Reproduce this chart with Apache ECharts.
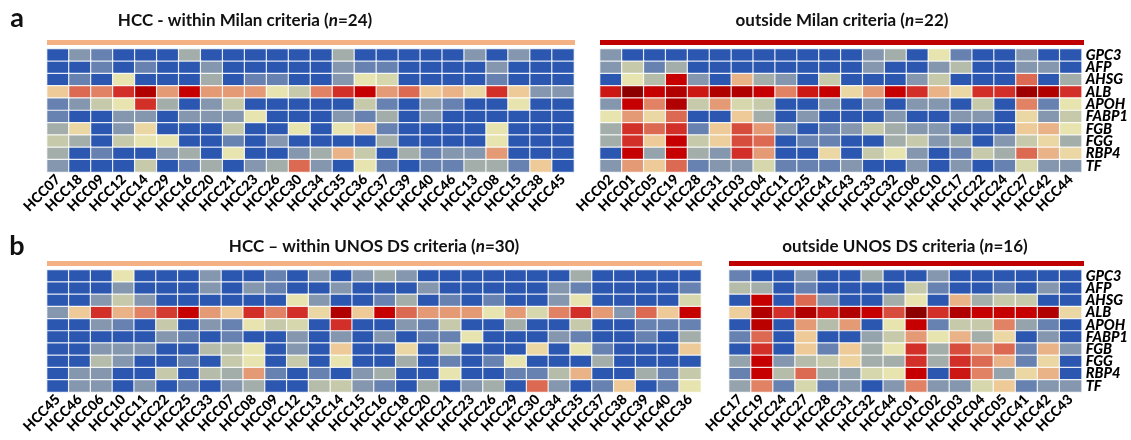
<!DOCTYPE html>
<html><head><meta charset="utf-8">
<script src="https://cdn.jsdelivr.net/npm/echarts@6/dist/echarts.min.js"></script>
<style>html,body{margin:0;padding:0;background:#fff}#c{width:1131px;height:440px}</style>
</head><body><div id="c"></div>
<script>
// ---------- DATA ----------
const genes = ['GPC3','AFP','AHSG','ALB','APOH','FABP1','FGB','FGG','RBP4','TF'];

const milanInSamples = ['HCC07','HCC18','HCC09','HCC12','HCC14','HCC29','HCC16','HCC20','HCC21','HCC23','HCC26','HCC30','HCC34','HCC35','HCC36','HCC37','HCC39','HCC40','HCC46','HCC13','HCC08','HCC15','HCC38','HCC45'];
const milanOutSamples = ['HCC02','HCC01','HCC05','HCC19','HCC28','HCC31','HCC03','HCC04','HCC11','HCC25','HCC41','HCC43','HCC33','HCC32','HCC06','HCC10','HCC17','HCC22','HCC24','HCC27','HCC42','HCC44'];
const unosInSamples = ['HCC45','HCC46','HCC06','HCC10','HCC11','HCC22','HCC25','HCC33','HCC07','HCC08','HCC09','HCC12','HCC13','HCC14','HCC15','HCC16','HCC18','HCC20','HCC21','HCC23','HCC26','HCC29','HCC30','HCC34','HCC35','HCC37','HCC38','HCC39','HCC40','HCC36'];
const unosOutSamples = ['HCC17','HCC19','HCC24','HCC27','HCC28','HCC31','HCC32','HCC44','HCC01','HCC02','HCC03','HCC04','HCC05','HCC41','HCC42','HCC43'];

// relative expression level (0 = low/blue ... 12 = high/dark red), rows follow `genes`
const milanInValues = [
  [0,2,1.5,0,0,0,3,0,0,0,0,0, 0,3,0,0,0,0,0,2,0,2,0,0],
  [0,0,1.5,0,1.5,0,0,2,0,0,0,0, 0,2,1.5,1.5,0,0,0,0,2,0,0,0],
  [0,1.5,0,5,0,0,0,3,0,1.5,1.5,0, 0,2,5,4.5,0,0,0,0,1.5,0,0,0],
  [6,8,7.5,9,11,7,10,7,7,7,5,4, 7.5,9,10,7,8,6,6.5,5.5,9,6,2,2],
  [1.5,2,4,5,9,3,0,2,4,0,0,0, 0,0,4,1.5,0,2,1.5,0,0,5,0,0],
  [1.5,0,0,2,2,0,2,2,2,5,0,0, 0,2,1.5,3,0,2,0,0,0,0,0,0],
  [3,5.5,0,2,5.5,0,0,0,4,0,0,5, 0,5,6,1.5,0,0,0,0,5,0,0,0],
  [4,3,0,4,5,5,0,0,1.5,0,2,0, 0,0,0,3,0,0,0,0,5,0,0,0],
  [3,0,1.5,0,0,2,3,0,5,0,0,2, 3,6.5,4,0,3,1.5,2,2,7,0,0,0],
  [2,0,0,0,4,0,1.5,3,0,2,3,8, 2,0,5,1.5,0,1.5,1.5,3,3,1.5,6,0]
];
const milanOutValues = [
  [2,0,0,0,0,0,0,0,0,0,0, 0,2,3,0,5,1.5,0,0,2,0,0],
  [2,4,1.5,3,0,0,0,0,0,0,0, 0,2,0,0,2,3.5,0,0,2,2,0],
  [0,5,3.5,10,2,0,6.5,3,2,0,4, 0,0,0,2,4,0,0,0,8,0,3],
  [9.5,12,10,11,9.5,11,11,10,7.5,9.5,10, 5.5,7,10,9,6.5,5.5,9,9,11.5,11,9],
  [2,10,7.5,11,4,7,4.5,4,0,0,2, 0,2,0,2,2,0,4,0,7.5,1.5,5],
  [5,7,5.5,8,0,0,6,3,0,2,0, 0,0,2,0,0,2,2,0,5.5,2,4],
  [3,9,8,9,1.5,6,8.5,7,2,0,1.5, 2,4,3,2,2,0,0,0,6,6.5,5],
  [3,9,6,10,4,5.8,8.5,8,0,1.5,1.5, 0,0,3,4,2,3,0,2,4,5.5,3],
  [0,10,2.5,10,3,2,9,7,0,0,5.5, 0,4,5,2,0,1.5,4,3,8,6.5,5.5],
  [2,7,6,8,1.5,2,2,4.5,1.5,1.5,1.5, 2,0,0,2,0,2,0,1.5,4.5,2,2]
];
const unosInValues = [
  [0,0,0,5,0,0,0,2,0,0, 1.5,0,2,0,2,3,2,0,0,0, 0,0,0,0,3,0,0,0,0,0],
  [0,0,0,2,0,0,0,2,0,2, 1.5,0,0,2,0,0,0,2,0,0, 0,0,0,2,1.5,0,0,0,0,1.5],
  [0,0,2,4,2,0,0,0,0,0, 0,5,2,0,0,1.5,3,0,1.5,0, 1.5,0,0,2,5,0,0,0,0,4.5],
  [2,6,9,6.5,7.5,8.8,10,7,6,9, 7.5,9,5.5,11,6,10,8,7,7,7, 5,7,4.5,7.5,9,7,2,8,6,10],
  [0,0,2,1.5,0,4,0,2,1.5,5, 4,4.5,0,9,0,0,2,1.5,4,0, 0,3,0,0,4,0,0,1.5,1.5,1.5],
  [0,0,0,0,0,2,1.5,0,1.5,0, 0,2,0,2,0,2,0,1.5,1.5,5, 0,0,0,2,1.5,0,0,1.5,0,3],
  [0,0,2,2,2,0,0,3.5,3.5,5, 0,2,0,6,0,0,5.5,0,4,0, 0,0,5.5,0,5,1.5,0,0,0,6],
  [0,0,3.5,2,0,0,1.5,0,4,5, 0,4,0,5,0,0,3,0,1.5,0, 1.5,5,0,0,0,3,0,0,0,0],
  [0,2,2,0,0,4,0,3.5,3,7, 1.5,0,1.5,0,2,3,0,0,5,0, 0,1.5,1.5,3.5,6.5,0,0,3,1.5,4],
  [0,2,2,0,2,0,1.5,0,2,3, 0,0,3.5,4,2,1.5,0,3,0,2, 3,0,8,2,0,1.5,6,0,1.5,5]
];
const unosOutValues = [
  [1.5,0,0,2,0,0,3,0, 0,2,0,0,0,0,0,0],
  [3.5,3,0,1.5,0,0,0,0, 4,1.5,0,0,1.5,0,2,0],
  [0,10,0,8,2,0,0,3, 5,0,6.5,3,4,4,0,0],
  [5.8,11,9,11,9.5,11,10,8.5, 12,9,11,10,10,10,11,5.5],
  [0,10.5,0,7,3.5,7,0,5, 10,1.5,4,4,7.5,2.5,1.5,0],
  [1.5,8,0,6,0,0,2.5,4, 7,5,6.5,3,5.5,0,2,0],
  [0,9,0,6,1.5,6,3,5, 9,3,8.5,7,8,1.5,6.5,2],
  [2.5,10,2,3.5,4,5.7,3,3, 9,3,9,8,6.5,1.5,5.5,0],
  [1.5,10,3.5,8,3,2.5,4.5,5, 10,0,9.5,7.5,2.5,5.5,6.5,0],
  [2.5,7.5,1.5,4.5,1.5,2,0,2, 7.5,2,2,4.5,6,1.5,2,2]
];

const panelTitles = [
  {main:'HCC - within Milan criteria (', n:'n', tail:'=24)'},
  {main:'outside Milan criteria (', n:'n', tail:'=22)'},
  {main:'HCC \u2013 within UNOS DS criteria (', n:'n', tail:'=30)'},
  {main:'outside UNOS DS criteria (', n:'n', tail:'=16)'}
];
const panelLetters = ['a','b'];

// ---------- LAYOUT / STYLE ----------
const FONT = 'Lato, "Open Sans", sans-serif';
const panels = [
  {samples: milanInSamples,  values: milanInValues,  left:47,  top:49,  width:527, height:123, bar:'#f4b183', showGenes:false, titleX:245, titleY:21},
  {samples: milanOutSamples, values: milanOutValues, left:600, top:49,  width:483, height:123, bar:'#c00000', showGenes:true,  titleX:842, titleY:21},
  {samples: unosInSamples,   values: unosInValues,   left:47,  top:270, width:654, height:122, bar:'#f4b183', showGenes:false, titleX:374, titleY:247},
  {samples: unosOutSamples,  values: unosOutValues,  left:729, top:270, width:354, height:122, bar:'#c00000', showGenes:true,  titleX:905, titleY:247}
];
const palette = ['#2b57b1','#4a6cb1','#8497ae','#a3aeaa','#c6c9aa','#e8e4b0','#edca97','#e59a76','#dc6a52','#d22f28','#c60000','#b00000','#8c0000'];

const grid = [], xAxis = [], yAxis = [], series = [], graphics = [];
panels.forEach((p, i) => {
  grid.push({left:p.left, top:p.top, width:p.width, height:p.height, containLabel:false});
  xAxis.push({type:'category', gridIndex:i, data:p.samples, position:'bottom',
    axisLine:{show:false}, axisTick:{show:false}, splitLine:{show:false},
    axisLabel:{interval:0, rotate:45, margin:5, color:'#000', fontFamily:FONT, fontWeight:900, fontSize:14}});
  yAxis.push({type:'category', gridIndex:i, data:genes, inverse:true, position:'right',
    axisLine:{show:false}, axisTick:{show:false}, splitLine:{show:false},
    axisLabel:{show:p.showGenes, interval:0, margin:4, color:'#000', fontFamily:FONT, fontWeight:900, fontStyle:'italic', fontSize:14.5}});
  const data = [];
  p.values.forEach((row, r) => row.forEach((v, c) => data.push([c, r, v])));
  series.push({type:'heatmap', xAxisIndex:i, yAxisIndex:i, data,
    itemStyle:{borderColor:'rgba(255,255,255,0.85)', borderWidth:1.2},
    emphasis:{disabled:true}});
  graphics.push({type:'rect', shape:{x:p.left, y:p.top - 9, width:p.width + 1, height:5}, style:{fill:p.bar}});
  const t = panelTitles[i];
  graphics.push({type:'text', x:p.titleX, y:p.titleY, style:{
    text:'{b|' + t.main + '}{i|' + t.n + '}{b|' + t.tail + '}',
    align:'center', verticalAlign:'middle',
    rich:{b:{fontFamily:FONT, fontWeight:'bold', fontSize:17, fill:'#111'},
          i:{fontFamily:FONT, fontWeight:'bold', fontStyle:'italic', fontSize:17, fill:'#111'}}}});
});
graphics.push({type:'text', x:17, y:18, style:{text:panelLetters[0], align:'center', verticalAlign:'middle', fontFamily:FONT, fontWeight:'bold', fontSize:27, fill:'#111'}});
graphics.push({type:'text', x:17, y:246, style:{text:panelLetters[1], align:'center', verticalAlign:'middle', fontFamily:FONT, fontWeight:'bold', fontSize:27, fill:'#111'}});

const chart = echarts.init(document.getElementById('c'), null, {renderer:'canvas'});
chart.setOption({
  animation:false,
  backgroundColor:'#fff',
  grid, xAxis, yAxis, series,
  visualMap:{type:'continuous', show:false, min:0, max:12, seriesIndex:[0,1,2,3], inRange:{color:palette}},
  graphic:graphics
});
</script></body></html>
